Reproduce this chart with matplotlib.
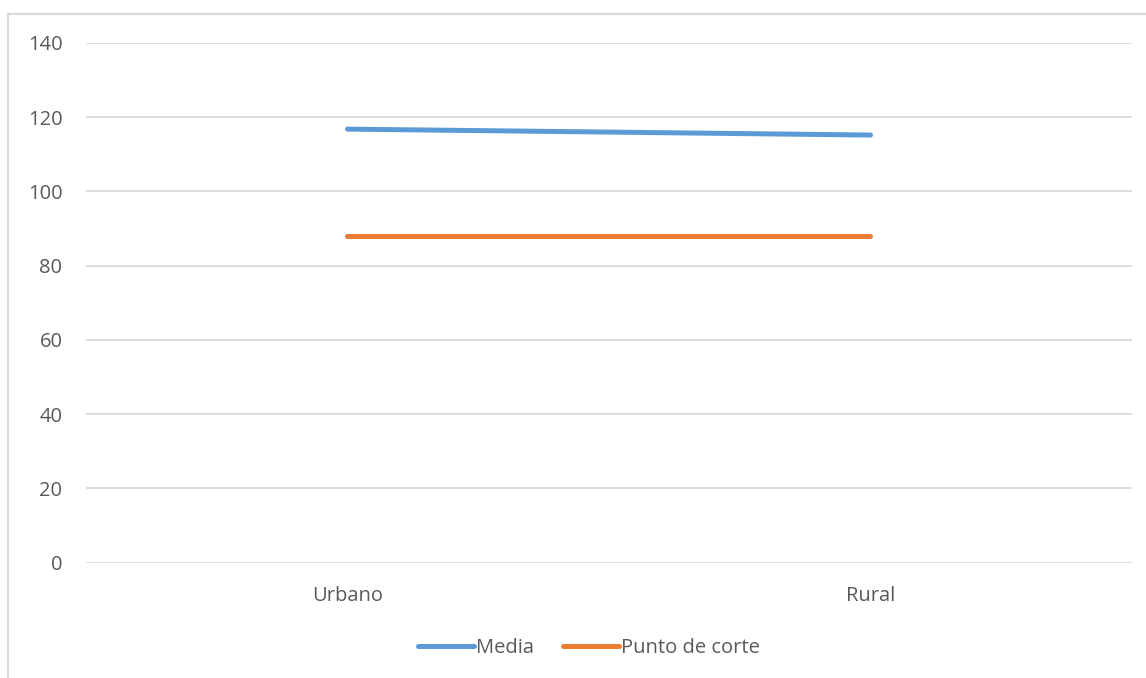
import matplotlib.pyplot as plt
from matplotlib.lines import Line2D

categories = ['Urbano', 'Rural']
media = [116.8, 115.2]
punto_corte = [88, 88]
yticks = [0, 20, 40, 60, 80, 100, 120, 140]

plt.rcParams['font.family'] = ['Open Sans', 'DejaVu Sans']
text_color = '#595959'
grid_color = '#D9D9D9'

fig = plt.figure(figsize=(11.46, 6.78), dpi=100)
ax = fig.add_axes([86 / 1146, 1 - 562.7 / 678, (1132 - 86) / 1146, (562.7 - 43) / 678])

x = range(len(categories))
ax.plot(x, media, color='#5B9BD5', linewidth=3.6, solid_capstyle='round', label='Media')
ax.plot(x, punto_corte, color='#ED7D31', linewidth=3.6, solid_capstyle='round', label='Punto de corte')

ax.set_xlim(-0.5, len(categories) - 0.5)
ax.set_ylim(0, 140)
ax.set_yticks(yticks)
ax.set_xticks(list(x))
ax.set_xticklabels(categories)
ax.grid(axis='y', color=grid_color, linewidth=1.3)
ax.set_axisbelow(True)
for s in ax.spines.values():
    s.set_visible(False)
ax.tick_params(axis='both', length=0, colors=text_color, labelsize=14.5)
ax.tick_params(axis='y', pad=17)
ax.tick_params(axis='x', pad=17)

ax.legend(loc='center', bbox_to_anchor=(589 / 1146, 1 - 648 / 678), bbox_transform=fig.transFigure,
          ncol=2, frameon=False, fontsize=14.5, labelcolor=text_color,
          handlelength=2.8, handletextpad=0.1, columnspacing=1.4)

# chart border (left and top only, rest is cropped)
fig.add_artist(Line2D([8 / 1146, 8 / 1146], [0, 1 - 14 / 678], color=grid_color, linewidth=1.5))
fig.add_artist(Line2D([8 / 1146, 1], [1 - 14 / 678, 1 - 14 / 678], color=grid_color, linewidth=1.5))

fig.savefig('out.png', dpi=100)
